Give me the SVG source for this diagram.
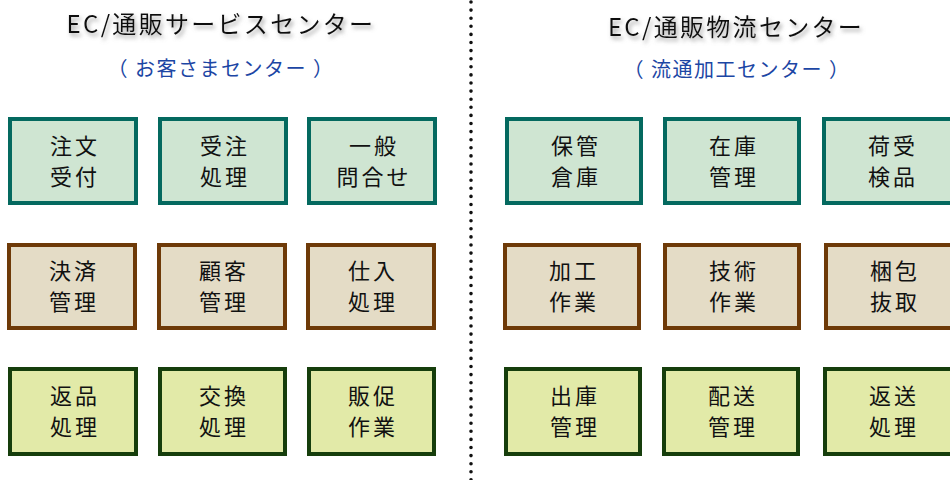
<svg xmlns="http://www.w3.org/2000/svg" width="950" height="480" viewBox="0 0 950 480">
<style>
text{font-family:"Noto Sans CJK JP","Noto Sans",sans-serif;text-anchor:middle}
.title{font-size:24px;fill:#111;letter-spacing:2.3px}
.sub{font-size:20px;fill:#1c46a4;letter-spacing:1.5px}
.lbl{font-size:22px;fill:#111;letter-spacing:3px}
.r1 rect{fill:#cfe5d2;stroke:#04695f;stroke-width:4}
.r2 rect{fill:#e4dcc6;stroke:#6e3a08;stroke-width:4}
.r3 rect{fill:#e2eaa8;stroke:#163e0c;stroke-width:4}
</style>
<defs>
<filter id="sh" x="-10%" y="-50%" width="120%" height="200%">
<feDropShadow dx="2" dy="3" stdDeviation="2" flood-color="#888" flood-opacity="0.8"/>
</filter>
</defs>
<rect width="950" height="480" fill="#fff"/>
<g id="connectors">
<line x1="471" y1="2" x2="471" y2="480" stroke="#111" stroke-width="3.6" stroke-linecap="round" stroke-dasharray="0 8.1"/>
</g>
<g id="headers">
<text class="title" x="221" y="33" filter="url(#sh)">EC/通販サービスセンター</text>
<text class="sub" x="221" y="76">（ お客さまセンター ）</text>
<text class="title" x="736" y="36" filter="url(#sh)">EC/通販物流センター</text>
<text class="sub" x="737" y="77">（ 流通加工センター ）</text>
</g>
<g class="r1">
<g id="n1"><rect x="10" y="119" width="126" height="84"/><text class="lbl" x="75" y="154">注文</text><text class="lbl" x="75" y="185">受付</text></g>
<g id="n2"><rect x="160" y="119" width="126" height="84"/><text class="lbl" x="225" y="154">受注</text><text class="lbl" x="225" y="185">処理</text></g>
<g id="n3"><rect x="309" y="119" width="126" height="84"/><text class="lbl" x="374" y="154">一般</text><text class="lbl" x="374" y="185">問合せ</text></g>
<g id="n4"><rect x="507" y="119" width="134" height="84"/><text class="lbl" x="576" y="154">保管</text><text class="lbl" x="576" y="185">倉庫</text></g>
<g id="n5"><rect x="665" y="119" width="134" height="84"/><text class="lbl" x="734" y="154">在庫</text><text class="lbl" x="734" y="185">管理</text></g>
<g id="n6"><rect x="824" y="119" width="134" height="84"/><text class="lbl" x="893" y="154">荷受</text><text class="lbl" x="893" y="185">検品</text></g>
</g>
<g class="r2">
<g id="n7"><rect x="9" y="245" width="126" height="83"/><text class="lbl" x="74" y="279">決済</text><text class="lbl" x="74" y="310">管理</text></g>
<g id="n8"><rect x="159" y="245" width="126" height="83"/><text class="lbl" x="224" y="279">顧客</text><text class="lbl" x="224" y="310">管理</text></g>
<g id="n9"><rect x="308" y="245" width="126" height="83"/><text class="lbl" x="373" y="279">仕入</text><text class="lbl" x="373" y="310">処理</text></g>
<g id="n10"><rect x="505" y="245" width="134" height="83"/><text class="lbl" x="574" y="279">加工</text><text class="lbl" x="574" y="310">作業</text></g>
<g id="n11"><rect x="665" y="245" width="134" height="83"/><text class="lbl" x="734" y="279">技術</text><text class="lbl" x="734" y="310">作業</text></g>
<g id="n12"><rect x="826" y="245" width="134" height="83"/><text class="lbl" x="895" y="279">梱包</text><text class="lbl" x="895" y="310">抜取</text></g>
</g>
<g class="r3">
<g id="n13"><rect x="10" y="369" width="126" height="85"/><text class="lbl" x="75" y="404">返品</text><text class="lbl" x="75" y="435">処理</text></g>
<g id="n14"><rect x="160" y="369" width="125" height="85"/><text class="lbl" x="224" y="404">交換</text><text class="lbl" x="224" y="435">処理</text></g>
<g id="n15"><rect x="309" y="369" width="125" height="85"/><text class="lbl" x="373" y="404">販促</text><text class="lbl" x="373" y="435">作業</text></g>
<g id="n16"><rect x="506" y="369" width="134" height="85"/><text class="lbl" x="575" y="404">出庫</text><text class="lbl" x="575" y="435">管理</text></g>
<g id="n17"><rect x="664" y="369" width="134" height="85"/><text class="lbl" x="733" y="404">配送</text><text class="lbl" x="733" y="435">管理</text></g>
<g id="n18"><rect x="825" y="369" width="134" height="85"/><text class="lbl" x="894" y="404">返送</text><text class="lbl" x="894" y="435">処理</text></g>
</g>
</svg>
